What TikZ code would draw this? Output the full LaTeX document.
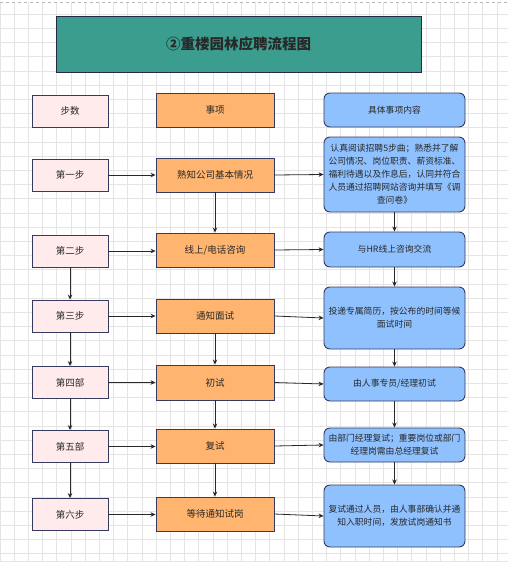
\documentclass[tikz,border=0pt]{standalone}
\usepackage{fontspec}
\setmainfont{Noto Sans CJK SC}
\usepackage{xcolor}
\usepackage{tikz}
\usetikzlibrary{arrows.meta, positioning, calc}
\definecolor{mynavy}{RGB}{54,58,96}
\definecolor{myteal}{RGB}{58,157,142}
\definecolor{mypink}{RGB}{255,235,235}
\definecolor{myorange}{RGB}{255,181,112}
\definecolor{myblue}{RGB}{143,193,255}
\definecolor{mygrid}{RGB}{228,228,228}
\definecolor{mydark}{RGB}{40,40,40}
\tikzset{
  titlebox/.style={rectangle, draw=mynavy!70!black, fill=myteal,
    minimum width=365pt, minimum height=56pt, line width=0.9pt,
    font=\fontsize{14.5}{17}\selectfont\bfseries, text=mydark},
  stepbox/.style={rectangle, draw=mynavy, fill=mypink,
    minimum width=76pt, minimum height=32pt, line width=0.9pt,
    font=\fontsize{9.5}{12}\selectfont, text=mydark},
  itembox/.style={rectangle, draw=mynavy, fill=myorange,
    minimum width=118pt, minimum height=34pt, line width=0.9pt,
    font=\fontsize{9.5}{12}\selectfont, text=mydark},
  descbox/.style={rectangle, draw=mynavy, fill=myblue,
    minimum width=141pt, minimum height=34pt, align=center,
    inner sep=1pt, rounded corners=6pt, line width=0.9pt,
    font=\fontsize{8.8}{13}\selectfont, text=mydark},
  arrow/.style={-{Stealth[length=5pt,width=4.5pt]}, line width=0.8pt, color=mydark}
}

\begin{document}
\begin{tikzpicture}[x=1pt, y=-1pt]
  \useasboundingbox (0,0) rectangle (508,565);
  % Grid background
  \foreach \gx in {0,14.2,...,508}
    \draw[mygrid, line width=0.7pt] (\gx,2) -- (\gx,561);
  \foreach \gy in {14.2,28.4,...,561}
    \draw[mygrid, line width=0.7pt] (0,\gy) -- (508,\gy);
  \draw[mygrid!80!black, dashed, line width=0.7pt] (0,2) -- (508,2);
  \draw[mygrid, line width=0.7pt] (0,561) -- (508,561);

  % Title
  \node[titlebox] (title) at (238.5,44) {②重楼园林应聘流程图};

  % Steps
  \node[stepbox] (step0) at (70,111) {步数};
  \node[stepbox] (step1) at (70,175) {第一步};
  \node[stepbox] (step2) at (70,251) {第二步};
  \node[stepbox] (step3) at (70,316) {第三步};
  \node[stepbox] (step4) at (70,382.5) {第四部};
  \node[stepbox] (step5) at (70,446.5) {第五部};
  \node[stepbox] (step6) at (70,514.5) {第六步};

  % Items
  \node[itembox] (item0) at (215,110) {事项};
  \node[itembox] (item1) at (215,175) {熟知公司基本情况};
  \node[itembox] (item2) at (215,250) {线上/电话咨询};
  \node[itembox] (item3) at (215,316) {通知面试};
  \node[itembox, minimum height=35pt] (item4) at (215,382.5) {初试};
  \node[itembox] (item5) at (215,446) {复试};
  \node[itembox] (item6) at (215,514) {等待通知试岗};

  % Details
  \node[descbox] (desc0) at (394.5,110) {具体事项内容};
  \node[descbox, minimum height=75pt] (desc1) at (394.5,174.5) {认真阅读招聘5步曲；熟悉并了解\\公司情况、岗位职责、薪资标准、\\福利待遇以及作息后，认同并符合\\人员通过招聘网站咨询并填写《调\\查问卷》};
  \node[descbox, minimum height=35pt] (desc2) at (394.5,249.5) {与HR线上咨询交流};
  \node[descbox, minimum height=62pt] (desc3) at (394.5,318) {投递专属简历，按公布的时间等候\\面试时间};
  \node[descbox] (desc4) at (394.5,384) {由人事专员/经理初试};
  \node[descbox] (desc5) at (394.5,445) {由部门经理复试；重要岗位或部门\\经理岗需由总经理复试};
  \node[descbox, minimum height=62pt] (desc6) at (394.5,516) {复试通过人员，由人事部确认并通\\知入职时间，发放试岗通知书};

  % Step -> item -> detail
  \foreach \i in {1,...,6} {
    \draw[arrow] (step\i.east) -- (step\i.east -| item\i.west);
    \draw[arrow] (item\i.east) -- (desc\i.west);
  }

  % Down the columns
  \foreach \a/\b in {2/3,3/4,4/5,5/6}
    \draw[arrow] (step\a) -- (step\b);
  \foreach \a/\b in {1/2,3/4,4/5,5/6}
    \draw[arrow] (item\a) -- (item\b);
  \foreach \a/\b in {1/2,2/3,3/4,4/5,5/6}
    \draw[arrow] (desc\a) -- (desc\b);
\end{tikzpicture}
\end{document}
